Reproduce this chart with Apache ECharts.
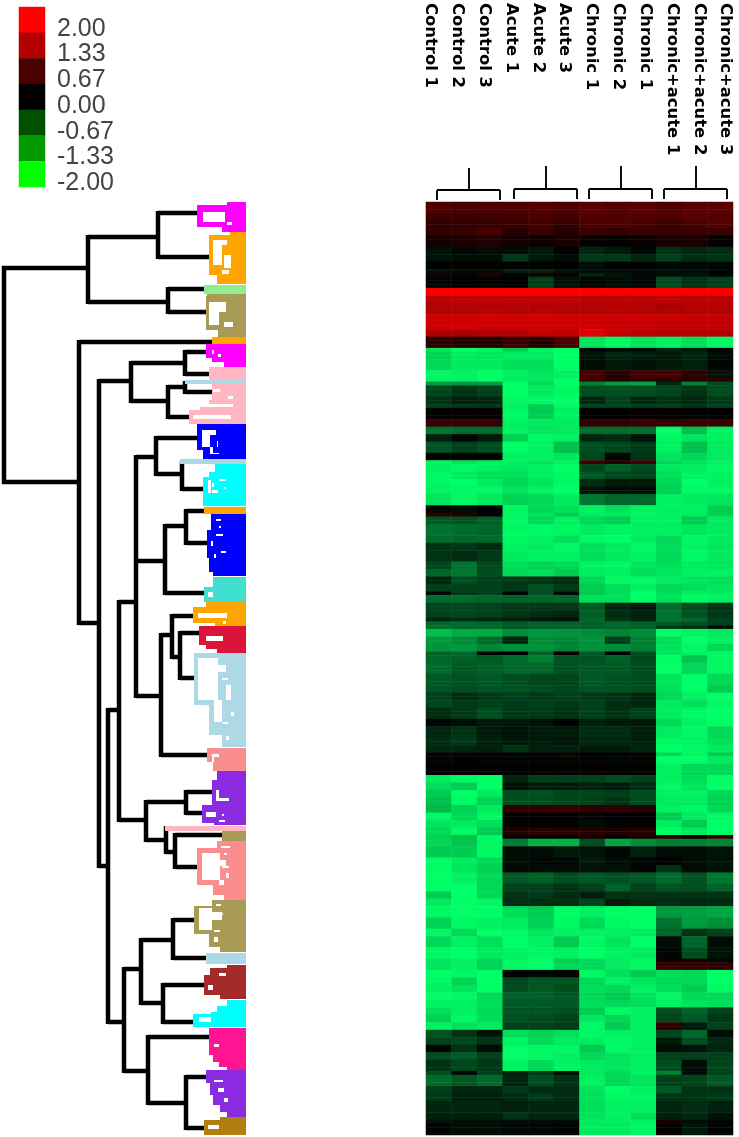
<!DOCTYPE html>
<html>
<head>
<meta charset="utf-8">
<style>html,body{margin:0;padding:0;background:#fff}#c{width:739px;height:1137px;filter:blur(0.45px)}</style>
<script src="https://cdn.jsdelivr.net/npm/echarts@6/dist/echarts.min.js"></script>
</head>
<body>
<div id="c"></div>
<script>
const sampleLabels = ['Control 1','Control 2','Control 3','Acute 1','Acute 2','Acute 3','Chronic 1','Chronic 2','Chronic 1','Chronic+acute 1','Chronic+acute 2','Chronic+acute 3'];
const legendTicks = ['2.00','1.33','0.67','0.00','-0.67','-1.33','-2.00'];
const legendValues = [2,1.33,0.67,0,-0.67,-1.33,-2];
const legendColors = ['#ff0000','#b40000','#480000','#000000','#005000','#009a00','#00ff00'];
const heatRamp = ['#00ff66','#000000','#ff0000'];

// each band: [row count, then 12 sample values]
const bands = [
[3,.6,.55,.6,.6,.65,.6,.7,.65,.7,.6,.7,.7],
[2,.5,.5,.5,.55,.6,.55,.65,.65,.65,.6,.7,.65],
[2,.35,.35,.4,.45,.5,.4,.6,.6,.55,.45,.55,.65],
[2,.4,.45,.55,.3,.45,.3,.45,.4,.45,.45,.45,.45],
[3,.15,.2,.25,.15,.12,.2,.05,.02,.05,.2,.2,.02],
[2,-.15,-.05,-.1,-.1,-.2,0,-.3,-.2,-.05,-.4,-.3,-.35],
[2,-.15,-.12,-.12,-.45,-.2,-.1,-.45,-.45,-.3,-.5,-.35,-.4],
[2,0,.03,.03,0,0,0,-.1,0,0,-.05,-.05,-.05],
[1,-.15,-.1,-.1,-.25,-.3,-.15,-.1,-.1,-.1,-.15,-.1,-.05],
[1,.2,.08,.25,.03,.15,.15,-.3,-.15,-.05,-.1,-.15,-.05],
[3,-.05,0,-.02,0,-.5,-.15,-.05,-.1,-.05,-.6,-.4,-.5],
[2,1.95,1.95,1.95,1.95,1.95,1.95,1.95,1.95,1.95,1.95,1.95,1.95],
[2,1.45,1.5,1.5,1.5,1.5,1.5,1.45,1.45,1.45,1.5,1.45,1.45],
[3,1.4,1.4,1.45,1.4,1.45,1.4,1.4,1.45,1.4,1.35,1.4,1.4],
[2,1.6,1.6,1.65,1.6,1.65,1.6,1.6,1.6,1.6,1.6,1.55,1.55],
[2,1.6,1.65,1.6,1.6,1.6,1.6,1.6,1.55,1.55,1.5,1.5,1.5],
[2,1.35,1.35,1.4,1.4,1.55,1.5,1.75,1.55,1.45,1.4,1.4,1.4],
[3,.35,.3,.3,.45,.3,.55,-1.8,-1.95,-1.8,-1.9,-1.75,-1.95],
[1,-1.8,-2,-1.9,-1.6,-1.9,-2,-.05,-.1,-.1,-.3,-.2,-.05],
[2,-1.65,-1.85,-1.8,-1.85,-1.85,-2,-.15,-.3,-.25,-.2,-.3,-.1],
[3,-1.7,-1.85,-1.85,-1.75,-1.75,-2,-.1,-.2,-.15,-.2,-.25,-.05],
[2,-1.95,-1.9,-2,-1.9,-1.8,-1.9,.55,.3,.55,.55,.35,-.15],
[1,-1.9,-1.9,-2,-1.85,-1.85,-2,.5,.3,.35,.3,.3,.35],
[1,-1.2,-1.2,-1.2,-2,-1.7,-2,-1,-1.25,-1.3,-.3,-1,-.6],
[3,-.55,-.4,-.5,-2,-1.85,-1.95,-.6,-.6,-.6,-.55,-.4,-.6],
[2,-.4,-.25,-.3,-1.95,-1.95,-2,-.3,-.5,-.3,-.4,-.3,-.45],
[1,-.5,-.45,-.45,-1.9,-1.6,-1.95,-.55,-.55,-.5,-.5,-.4,-.5],
[3,.02,.05,.05,-1.95,-1.6,-1.9,0,0,.05,.05,.02,0],
[2,.45,.45,.45,-1.9,-1.85,-1.85,.4,.4,.45,.4,.45,.45],
[2,-.9,-.85,-.85,-1.9,-1.8,-1.85,-.85,-.85,-.85,-2,-1.5,-1.9],
[2,-.25,-.05,-.2,-1.65,-1.95,-1.9,-.3,-.35,-.15,-1.95,-1.8,-1.9],
[3,-.65,-.5,-.6,-2,-1.9,-1.5,-.6,-.55,-.45,-1.9,-1.5,-1.85],
[2,-.02,-.02,-.02,-1.9,-1.9,-1.8,-.55,-.05,-.4,-1.8,-1.7,-1.85],
[1,-1.95,-1.8,-1.9,-1.9,-1.8,-1.9,.5,.3,.5,-1.7,-1.8,-1.9],
[2,-1.9,-1.95,-1.9,-1.85,-1.9,-2,-.55,-.75,-.6,-1.85,-1.85,-1.95],
[2,-1.95,-1.85,-1.75,-1.75,-1.85,-1.95,-.7,-.55,-.5,-1.75,-1.9,-1.9],
[2,-1.95,-2,-1.85,-1.7,-1.8,-1.95,-.35,-.2,-.2,-1.7,-2,-1.9],
[2,-1.9,-1.95,-1.95,-1.8,-1.9,-2,-.15,-.1,-.1,-1.65,-1.95,-1.95],
[3,-1.8,-1.95,-1.85,-1.65,-1.7,-1.85,-.95,-.8,-.8,-1.9,-1.85,-1.8],
[2,-.05,-.1,0,-1.95,-1.7,-1.75,-1.9,-1.75,-1.9,-1.9,-1.9,-1.6],
[1,.4,.3,.05,-1.95,-1.8,-1.6,-1.85,-1.85,-1.95,-1.9,-1.85,-1.65],
[2,-.7,-.65,-.75,-1.95,-1.7,-1.9,-1.7,-1.6,-1.9,-1.9,-1.6,-1.85],
[3,-.9,-.85,-.8,-1.95,-1.95,-1.95,-1.85,-1.9,-1.9,-1.9,-1.8,-1.85],
[2,-.85,-.8,-.85,-1.95,-1.9,-1.75,-1.95,-2,-1.85,-1.7,-1.95,-1.85],
[2,-.4,-.45,-.35,-1.9,-1.85,-1.95,-1.75,-1.85,-1.95,-1.75,-1.9,-1.8],
[3,-.4,-.35,-.45,-1.85,-1.9,-1.9,-1.75,-1.85,-1.9,-1.7,-1.95,-1.85],
[2,-.55,-.9,-.55,-1.75,-1.65,-1.7,-1.9,-1.95,-1.8,-1.75,-1.85,-1.8],
[2,-.8,-.95,-.6,-1.7,-1.75,-1.6,-1.85,-1.9,-1.75,-1.8,-1.9,-1.9],
[2,-.3,-.6,-.5,-.45,-.4,-.35,-1.7,-1.95,-1.95,-1.85,-1.8,-1.75],
[2,-.5,-.5,-.5,-.45,-.6,-.45,-1.6,-1.75,-1.9,-1.7,-1.75,-1.8],
[1,-.05,-.45,-.5,-.05,-.6,-.1,-1.6,-1.75,-2,-1.75,-1.9,-1.85],
[2,-.85,-.85,-.8,-.75,-.8,-.8,-1.75,-1.75,-2,-1.75,-1.95,-1.9],
[2,-.55,-.55,-.5,-.45,-.45,-.45,-.7,-.3,-.2,-.85,-.6,-.4],
[2,-.5,-.55,-.5,-.4,-.35,-.3,-.75,-.35,-.25,-.9,-.65,-.45],
[1,-.3,-.35,-.3,-.25,-.2,-.15,-.8,-.4,-.3,-.9,-.8,-.5],
[1,-.8,-.85,-.8,-.7,-.75,-.75,-.75,-.8,-.75,-.7,-.6,-.5],
[1,-.85,-.8,-.8,-.7,-.75,-.75,-.75,-.8,-.75,-.45,-.4,-.1],
[2,-1.5,-1.35,-1.35,-1.1,-1.2,-1.15,-1.1,-1.05,-1.1,-2,-1.9,-1.85],
[2,-1.2,-1.1,-.85,-.3,-1.1,-1.05,-1.15,-.5,-1,-1.75,-2,-1.9],
[2,-1.15,-1.2,-1.05,-1.15,-1.15,-1.05,-1.15,-1.1,-1,-1.8,-1.95,-1.7],
[1,-.75,-.8,-.02,0,-.75,0,-.7,.02,-.6,-1.8,-1.9,-1.95],
[2,-.8,-.75,-.7,-.85,-1,-.65,-.65,-.75,-.55,-2,-1.55,-1.95],
[3,-.85,-.7,-.75,-.8,-.8,-.65,-.7,-.7,-.6,-2,-1.7,-1.95],
[3,-.7,-.65,-.7,-.6,-.55,-.55,-.7,-.65,-.6,-1.8,-2,-1.7],
[2,-.65,-.6,-.65,-.65,-.6,-.55,-.65,-.65,-.6,-1.75,-2,-1.6],
[2,-.5,-.35,-.45,-.5,-.45,-.5,-.45,-.4,-.3,-1.7,-1.9,-2],
[2,-.55,-.45,-.5,-.45,-.5,-.45,-.5,-.35,-.3,-1.85,-1.75,-1.95],
[3,-.35,-.45,-.6,-.45,-.45,-.4,-.5,-.4,-.5,-1.85,-1.95,-2],
[2,-.05,-.1,-.2,-.2,-.15,-.02,-.25,-.2,-.2,-1.7,-1.9,-2],
[3,-.3,-.4,-.2,-.15,-.2,-.2,-.35,-.35,-.25,-1.85,-1.95,-1.7],
[2,-.35,-.45,-.25,-.2,-.2,-.15,-.3,-.3,-.25,-1.95,-1.9,-1.75],
[2,-.3,-.3,-.25,-.4,-.25,-.25,-.2,-.2,-.3,-2,-1.95,-1.85],
[1,.1,.1,.1,.02,.1,.15,0,0,.12,-1.7,-1.95,-1.6],
[2,-.04,0,-.02,-.04,-.02,-.04,-.02,-.05,-.04,-2,-2,-1.85],
[3,0,.03,.02,0,.02,0,.05,0,0,-1.9,-1.7,-1.7],
[2,-1.85,-1.95,-2,-.3,-.5,-.5,-.5,-.6,-.5,-1.9,-1.75,-2],
[2,-1.75,-1.6,-2,-.1,-.2,-.2,-.25,-.2,-.35,-1.95,-1.8,-2],
[2,-1.6,-2,-1.85,-.6,-.65,-.55,-.55,-.5,-.6,-1.9,-1.9,-1.7],
[2,-1.5,-1.95,-1.65,-.6,-.6,-.55,-.5,-.4,-.6,-1.85,-1.85,-1.65],
[2,-1.45,-1.65,-1.85,.4,.4,.45,.35,.4,.3,-1.9,-1.95,-1.7],
[2,-1.95,-1.7,-1.95,0,0,0,-.05,0,0,-1.6,-1.85,-1.95],
[2,-1.8,-1.85,-1.75,.02,.02,.02,-.1,-.02,.02,-1.85,-1.6,-2],
[2,-1.7,-1.95,-1.6,.25,.35,.3,.3,.25,.3,-2,-1.85,-2],
[1,-1.65,-1.5,-1.95,.05,.05,.05,.2,.05,.2,.4,.1,.5],
[2,-1.7,-1.55,-1.95,-1,-1.4,-1.4,-.6,-1.3,-1.1,-1,-1,-1.05],
[3,-1.6,-1.6,-1.95,-.1,-.1,-.2,-.15,-.05,-.25,-.1,-.1,-.15],
[2,-2,-1.85,-1.7,-.1,-.05,-.05,-.2,-.1,-.05,0,-.1,-.15],
[2,-2,-1.8,-1.65,-.05,-.1,-.1,-.15,-.15,-.05,-.4,-.1,-.15],
[3,-2,-1.9,-1.7,-.7,-.75,-.6,-.7,-.65,-.7,-.85,-.65,-.95],
[2,-2,-2,-1.7,-.5,-.5,-.4,-.5,-.75,-.5,-.65,-.6,-.75],
[2,-1.6,-2,-1.7,-.4,-.45,-.35,-.25,-.4,-.4,-.4,-.4,-.4],
[2,-1.85,-2,-1.95,-.35,-.35,-.35,-.55,-.2,-.3,-.35,-.3,-.3],
[3,-1.95,-2,-2,-1.75,-1.6,-2,-1.9,-2,-2,-1.2,-1.25,-1.3],
[3,-1.65,-1.95,-1.9,-1.85,-1.65,-1.95,-1.7,-1.95,-2,-.9,-1.2,-1.1],
[2,-1.95,-1.7,-2,-1.95,-1.8,-1.9,-1.9,-1.9,-1.85,-.8,-.4,-.5],
[3,-1.7,-1.9,-1.75,-2,-1.9,-1.6,-1.95,-1.8,-2,-.1,-.8,-.1],
[3,-1.95,-2,-1.85,-1.9,-1.95,-1.9,-2,-1.9,-1.85,-.05,-.6,-.15],
[1,-1.8,-1.9,-1.65,-1.95,-2,-1.6,-1.7,-1.85,-1.95,.15,.15,-.05],
[2,-1.8,-1.9,-1.65,-1.95,-2,-1.7,-1.7,-1.85,-1.95,.45,.4,.4],
[2,-2,-1.95,-2,.02,-.05,0,-1.95,-1.75,-1.6,-1.75,-1.7,-2],
[2,-1.95,-1.65,-2,-.55,-.65,-.65,-1.7,-1.9,-1.8,-1.7,-1.7,-2],
[2,-1.9,-1.8,-2,-.6,-.7,-.6,-1.75,-1.7,-1.9,-1.75,-1.6,-1.95],
[2,-2,-1.95,-1.7,-.75,-.75,-.7,-1.7,-1.6,-1.8,-1.95,-1.7,-1.7],
[2,-1.9,-1.9,-1.75,-.7,-.7,-.7,-1.75,-1.7,-1.75,-1.9,-1.8,-1.75],
[2,-1.75,-1.9,-1.7,-.65,-.65,-.6,-1.6,-1.95,-1.9,-.6,-.75,-.5],
[2,-1.65,-1.95,-1.75,-.65,-.6,-.55,-1.85,-1.7,-1.9,-.55,-.7,-.45],
[2,-1.9,-1.75,-1.85,-.5,-.5,-.45,-1.95,-1.6,-1.9,.4,-.2,-.5],
[2,-.65,-.4,-.15,-1.75,-1.65,-1.75,-1.95,-1.9,-1.9,-.55,-.8,-.1],
[2,-.5,-.55,-.4,-1.9,-1.7,-1.85,-1.85,-1.95,-1.9,-.2,-.6,-.3],
[2,-.05,-.4,-.1,-2,-1.95,-1.95,-1.6,-1.95,-1.9,-.1,-.15,-.3],
[2,-.6,-.7,-.5,-2,-1.95,-1.9,-1.7,-1.8,-1.9,-.5,-.5,-.5],
[3,-.4,-.55,-.45,-1.9,-1.7,-1.9,-1.85,-1.8,-1.9,-.6,-.1,-.55],
[1,-.6,-.02,-.5,-.25,-.45,-.1,-1.85,-1.7,-1.9,-1,-.1,-.5],
[3,-.85,-.7,-.85,-.3,-.6,-.4,-1.9,-1.7,-1.8,-.5,-.55,-.7],
[2,-.5,-.3,-.3,-.45,-.35,-.35,-1.8,-2,-1.9,-.7,-.4,-.4],
[2,-.45,-.25,-.25,-.35,-.45,-.35,-1.75,-1.95,-1.95,-.4,-.4,-.45],
[3,-.3,-.3,-.3,-.25,-.3,-.3,-1.75,-1.9,-1.9,-.3,-.35,-.25],
[2,-.25,-.25,-.25,-.4,-.3,-.3,-1.8,-1.9,-1.75,-.25,-.3,-.15],
[1,-.15,-.12,-.12,-.1,-.1,-.1,-1.85,-1.9,-1.9,.2,-.1,-.05],
[3,-.02,-.1,-.1,-.05,-.05,-.02,-1.85,-1.85,-1.95,.02,-.2,-.02]
];

// dendrogram branches: [distance1, leaf1, distance2, leaf2]
const dendroBranches = [
[4,266,4,484],[2,268,88,268],[2,482,79,482],
[88,235,88,304],[88,237,158,237],[158,211,158,259],[158,213,197,213],[158,257,209,257],
[88,302,168,302],[168,287,168,314],[168,289,204,289],[168,312,206,312],
[79,340,79,625],[79,342,212,342],[79,623,99,623],
[99,379,99,868],[99,381,131,381],[99,866,108,866],
[131,361,131,403],[131,363,185,363],[185,350,185,376],[185,352,206,352],[185,374,209,374],
[131,401,168,401],[168,385,168,419],[168,417,189,417],[168,387,185,387],[185,381,185,394],[185,392,212,392],
[108,708,108,1024],[108,710,119,710],
[119,600,119,822],[119,602,136,602],
[136,455,136,698],[136,457,156,457],[156,436,156,476],[156,438,197,438],[156,474,182,474],[182,461,182,491],[182,489,203,489],
[136,561,165,561],[165,524,165,595],[165,526,186,526],[186,509,186,545],[186,511,204,511],[186,543,207,543],[165,593,204,593],
[136,696,161,696],[161,633,161,757],[161,635,172,635],[172,614,172,659],[172,616,193,616],[172,657,180,657],[180,631,180,680],[180,633,199,633],[180,678,194,678],[161,755,207,755],
[119,820,146,820],[146,800,146,842],[146,802,186,802],[186,790,186,815],[186,792,212,792],[186,813,202,813],
[146,840,166,840],[166,826,166,854],[166,852,175,852],[175,833,175,869],[175,835,222,835],[175,867,197,867],
[108,1022,124,1022],[124,967,124,1073],[124,969,141,969],[141,938,141,1005],[141,940,173,940],[173,918,173,960],[173,920,194,920],[173,958,206,958],
[141,1003,163,1003],[163,983,163,1024],[163,985,204,985],[163,1022,193,1022],
[124,1071,148,1071],[148,1035,148,1105],[148,1037,209,1037],[148,1103,186,1103],[186,1075,186,1130],[186,1077,206,1077],[186,1128,204,1128]
];

const bracketLines = [
[437,190,500,190],[437,190,437,200],[500,190,500,200],[469,168,469,190],
[514,189,577,189],[514,189,514,199],[577,189,577,199],[546,166,546,189],
[589,189,652,189],[589,189,589,199],[652,189,652,199],[621,166,621,189],
[664,189,727,189],[664,189,664,199],[727,189,727,199],[696,166,696,189]
];

const clusterColors = ['#ff00ff','#ffa500','#90ee90','#a89b55','#ffa500','#ff00ff','#ffb6c1','#add8e6','#ffb6c1','#0000ff','#add8e6','#00ffff','#ffa500','#0000ff','#40e0d0','#ffa500','#dc143c','#add8e6','#fa8e8e','#8a2be2','#ffb6c1','#a89b55','#fa8e8e','#a89b55','#add8e6','#a52a2a','#00ffff','#ff1493','#8a2be2','#b07f10'];
const clusterLeafEdge = 246;
// each cluster: [leaf start, distance], ... closed by [leaf end]
const clusterSteps = [
[[202,227],[205,197],[227,222],[232]],
[[232,230],[235,209],[275,217],[284]],
[[285,204],[294]],
[[294,207],[296,206],[330,218],[337]],
[[337,212],[344]],
[[344,206],[358,212],[362,224],[367]],
[[367,209],[380]],
[[380,185],[384]],
[[384,212],[400,209],[407,200],[410,189],[424]],
[[424,197],[450,203],[459]],
[[459,180],[464]],
[[464,215],[472,209],[477,203],[506]],
[[507,204],[514]],
[[514,211],[530,207],[558,209],[572,213],[576]],
[[577,213],[587,204],[602]],
[[602,206],[607,193],[623,215],[626]],
[[626,199],[645,206],[649,217],[653]],
[[653,194],[705,209],[735,222],[747]],
[[748,207],[762,213],[771]],
[[771,217],[780,212],[805,202],[823,214],[825]],
[[826,165],[831]],
[[831,222],[841]],
[[841,217],[848,197],[885,213],[895,224],[900]],
[[900,212],[906,194],[934,209],[947,220],[952]],
[[953,206],[964]],
[[965,227],[968,210],[975,204],[995,220],[999]],
[[1000,227],[1006,217],[1012,211],[1014,193],[1027]],
[[1028,209],[1055,213],[1062,219],[1067,227],[1070]],
[[1070,206],[1083,210],[1095,213],[1105,220],[1112,227],[1117]],
[[1117,220],[1120,204],[1135]]
];

const whiteGaps = [
[203,212,225,222],[227,222,232,225],
[213,240,227,245],[213,245,222,265],[224,255,231,268],[222,270,229,274],
[209,302,226,312],[209,312,219,325],[224,322,233,327],
[212,350,214,354],[218,354,221,357],
[193,415,231,419],[200,404,233,407],[213,389,220,392],[228,396,233,399],
[202,430,216,435],[202,435,210,447],[210,447,213,453],[210,453,219,454],[217,441,218,447],
[208,480,211,493],[212,490,218,493],[219,479,226,481],[224,487,226,489],[212,483,214,487],
[216,519,221,521],[219,526,221,528],[216,534,223,536],[211,541,213,546],[221,551,226,553],[214,554,216,558],
[208,592,213,597],
[198,613,227,618],[223,621,226,624],
[206,636,223,641],
[198,658,218,700],[218,665,226,672],[222,678,228,680],[226,685,231,700],[214,700,222,722],[223,722,228,724],[231,712,234,716],[226,736,229,740],
[212,754,219,757],[212,757,214,762],
[216,790,219,800],[216,798,229,801],[206,812,216,817],[222,814,224,816],[219,820,225,822],
[202,853,220,880],[220,860,226,866],[221,846,230,848],[224,853,227,855],[222,866,229,868],[226,873,229,878],[219,880,224,885],
[199,908,212,930],[212,912,222,920],[216,904,221,906],[219,913,223,915],[214,930,220,932],[214,937,218,942],
[219,973,226,976],[208,985,213,990],
[199,1017,211,1022],
[214,1044,219,1047],
[214,1080,223,1082],[218,1088,224,1092],[224,1098,228,1102],
[208,1125,219,1129]
];

const heatData = [];
let row = 0;
bands.forEach(b => {
  for (let k = 0; k < b[0]; k++) {
    for (let c = 0; c < 12; c++) heatData.push([c, row, b[c + 1]]);
    row++;
  }
});
const rowNames = Array.from({length: row}, (_, i) => 'g' + i);

const chart = echarts.init(document.getElementById('c'), null, {renderer: 'canvas'});

function segmentSeries(items, width, lineColor) {
  return {
    type: 'custom', xAxisIndex: 3, yAxisIndex: 3, silent: true, clip: false, z: 3,
    data: items,
    renderItem: (p, api) => {
      const a = api.coord([api.value(0), api.value(1)]);
      const b = api.coord([api.value(2), api.value(3)]);
      return {type: 'line', shape: {x1: a[0], y1: a[1], x2: b[0], y2: b[1]},
        style: {stroke: lineColor, lineWidth: width, fill: null}};
    }
  };
}

chart.setOption({
  animation: false,
  backgroundColor: '#ffffff',
  grid: [
    {left: 426, top: 202, width: 307, height: 933},
    {left: 19, top: 7, width: 26, height: 180},
    {left: 417, top: 2, width: 323, height: 1},
    {left: 0, top: 0, width: 739, height: 1137},
    {left: 19, top: 16, width: 26, height: 180}
  ],
  xAxis: [
    {type: 'category', gridIndex: 0, data: sampleLabels, show: false},
    {type: 'category', gridIndex: 1, data: ['key'], show: false},
    {type: 'category', gridIndex: 2, data: sampleLabels, position: 'bottom',
      axisLine: {show: false}, axisTick: {show: false},
      axisLabel: {interval: 0, rotate: -90, margin: 0, fontFamily: 'DejaVu Sans', fontWeight: 'bold', fontSize: 16.4, color: '#000'}},
    {type: 'value', gridIndex: 3, min: 0, max: 739, show: false},
    {type: 'category', gridIndex: 4, data: ['key'], show: false}
  ],
  yAxis: [
    {type: 'category', gridIndex: 0, data: rowNames, inverse: true, show: false},
    {type: 'category', gridIndex: 1, data: legendTicks, inverse: true, show: false},
    {type: 'value', gridIndex: 2, min: 0, max: 1, show: false},
    {type: 'value', gridIndex: 3, min: 0, max: 1137, inverse: true, show: false},
    {type: 'category', gridIndex: 4, data: legendTicks, inverse: true, position: 'right',
      axisLine: {show: false}, axisTick: {show: false},
      axisLabel: {interval: 0, margin: 12, fontFamily: 'Liberation Sans', fontSize: 25, color: '#444'}}
  ],
  visualMap: [{
    type: 'continuous', show: false, min: -2, max: 2, seriesIndex: 0, dimension: 2,
    inRange: {color: heatRamp}
  }],
  series: [
    {type: 'heatmap', xAxisIndex: 0, yAxisIndex: 0, data: heatData, silent: true, progressive: 0},
    {type: 'heatmap', xAxisIndex: 1, yAxisIndex: 1, silent: true,
      data: legendValues.map((v, i) => ({value: [0, i, v], itemStyle: {color: legendColors[i]}}))},
    segmentSeries(dendroBranches, 4.5, '#000000'),
    segmentSeries(bracketLines, 1.9, '#000000'),
    {type: 'custom', xAxisIndex: 3, yAxisIndex: 3, silent: true, clip: false, z: 4,
      data: clusterSteps.map((s) => [clusterLeafEdge, s[0][0]]),
      renderItem: (p, api) => {
        const s = clusterSteps[p.dataIndex];
        const pts = [[clusterLeafEdge, s[0][0]]];
        for (let i = 0; i < s.length - 1; i++) {
          pts.push([s[i][1], s[i][0]], [s[i][1], s[i + 1][0]]);
        }
        pts.push([clusterLeafEdge, s[s.length - 1][0]]);
        return {type: 'polygon', shape: {points: pts.map(q => api.coord(q))},
          style: {fill: clusterColors[p.dataIndex]}};
      }},
    {type: 'custom', xAxisIndex: 3, yAxisIndex: 3, silent: true, clip: false, z: 5,
      data: whiteGaps,
      renderItem: (p, api) => {
        const a = api.coord([api.value(0), api.value(1)]);
        const b = api.coord([api.value(2), api.value(3)]);
        return {type: 'rect', shape: {x: a[0], y: a[1], width: b[0] - a[0], height: b[1] - a[1]},
          style: {fill: '#ffffff'}};
      }}
  ]
});
</script>
</body>
</html>
